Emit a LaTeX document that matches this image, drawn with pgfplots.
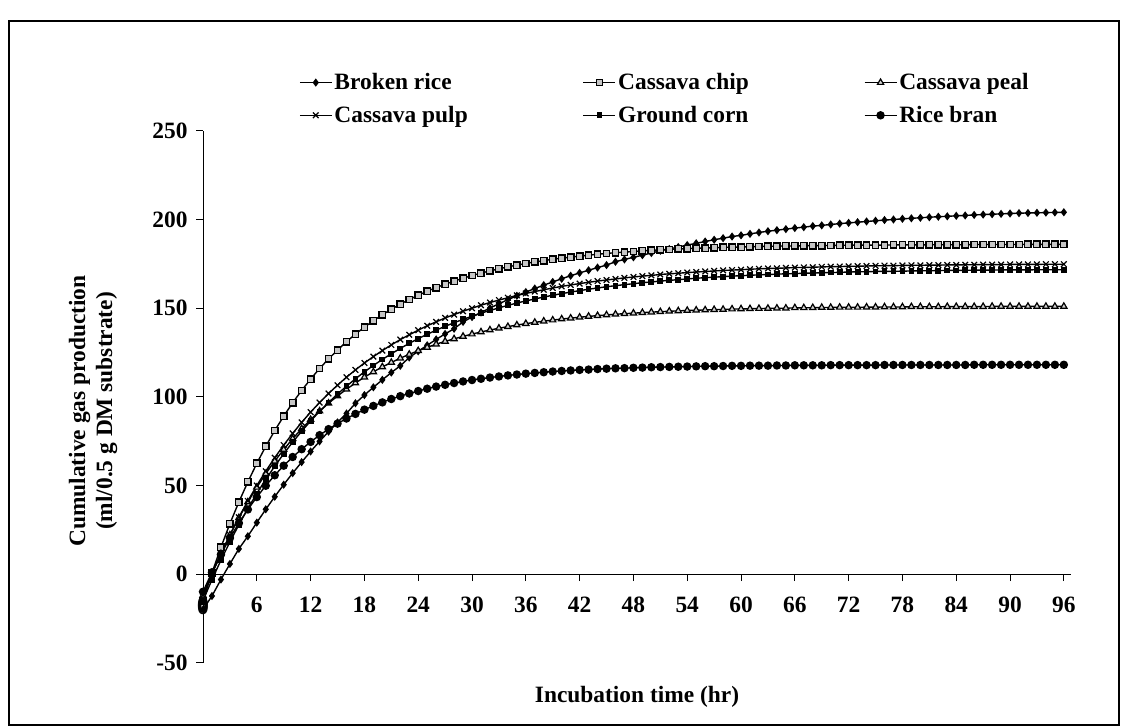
\documentclass[border=0pt]{standalone}
\usepackage{fontspec}
\setmainfont{Liberation Serif}
\usepackage{pgfplots}
\usepackage{pgfplotstable}
\pgfplotsset{compat=1.18}
\pgfplotstableread{
t br cc cpe cpu gc rb
0 -20 -15 -12 -12 -15 -10
1 -12.4 0.6 0.2 0.1 -3.2 1.0
2 -3.1 15.1 11.5 11.4 7.8 11.1
3 5.7 28.4 22.0 22.0 18.1 20.3
4 14.2 40.6 31.7 32.0 27.8 28.7
5 21.3 51.9 40.6 41.2 36.9 36.4
6 29.0 62.4 48.9 49.9 45.4 43.4
7 36.5 72.0 56.6 58.0 53.4 49.8
8 43.6 80.9 63.7 65.6 60.8 55.7
9 50.4 89.0 70.2 72.7 67.8 61.1
10 56.9 96.6 76.3 79.3 74.4 66.0
11 63.1 103.5 81.9 85.5 80.5 70.4
12 69.1 109.9 87.1 91.3 86.3 74.5
13 74.8 115.9 91.9 96.7 91.7 78.3
14 80.3 121.3 96.3 101.8 96.7 81.7
15 85.5 126.3 100.4 106.5 101.5 84.8
16 90.5 131.0 104.2 111.0 105.9 87.7
17 96.3 135.3 107.7 115.1 110.1 90.3
18 100.9 139.2 111.0 119.0 114.0 92.7
19 105.3 142.8 114.0 122.6 117.6 94.8
20 109.5 146.2 116.8 126.0 121.0 96.8
21 113.6 149.3 119.3 129.2 124.2 98.7
22 117.4 152.2 121.7 132.2 127.2 100.3
23 122.1 154.8 123.9 134.9 130.1 101.8
24 125.6 157.2 125.9 137.5 132.7 103.2
25 129.0 159.5 127.8 140.0 135.2 104.5
26 132.3 161.5 129.6 142.2 137.5 105.7
27 135.4 163.4 131.2 144.4 139.7 106.7
28 138.3 165.2 132.6 146.3 141.7 107.7
29 142.2 166.8 134.0 148.2 143.6 108.6
30 144.9 168.3 135.3 149.9 145.4 109.4
31 147.5 169.7 136.5 151.6 147.1 110.1
32 150.0 170.9 137.6 153.1 148.6 110.8
33 152.4 172.1 138.6 154.5 150.1 111.4
34 154.7 173.2 139.5 155.8 151.5 112.0
35 156.9 174.2 140.4 157.1 152.8 112.5
36 159.0 175.1 141.2 158.2 154.0 113.0
37 161.0 176.0 141.9 159.3 155.1 113.4
38 162.9 176.7 142.6 160.3 156.2 113.8
39 164.7 177.5 143.2 161.3 157.2 114.2
40 166.5 178.1 143.8 162.2 158.1 114.5
41 168.2 178.7 144.3 163.0 159.0 114.8
42 169.8 179.3 144.8 163.8 159.8 115.1
43 171.3 179.8 145.3 164.5 160.6 115.3
44 172.8 180.3 145.7 165.2 161.3 115.6
45 174.2 180.8 146.1 165.8 162.0 115.8
46 176.1 181.2 146.5 166.4 162.6 116.0
47 177.4 181.5 146.8 167.0 163.2 116.1
48 178.6 181.9 147.1 167.5 163.7 116.3
49 179.8 182.2 147.4 168.0 164.3 116.4
50 181.0 182.5 147.7 168.4 164.7 116.6
51 182.3 182.8 147.9 168.9 165.2 116.7
52 183.3 183.0 148.2 169.3 165.6 116.8
53 184.4 183.3 148.4 169.6 166.0 116.9
54 185.5 183.5 148.6 170.0 166.4 117.0
55 186.5 183.7 148.8 170.3 166.8 117.1
56 187.5 183.8 148.9 170.6 167.1 117.2
57 188.5 184.0 149.1 170.9 167.4 117.2
58 189.4 184.2 149.2 171.2 167.7 117.3
59 190.3 184.3 149.4 171.4 168.0 117.4
60 191.0 184.4 149.5 171.6 168.2 117.4
61 191.8 184.6 149.6 171.9 168.5 117.5
62 192.6 184.7 149.7 172.1 168.7 117.5
63 193.3 184.8 149.8 172.3 168.9 117.5
64 193.9 184.9 149.9 172.4 169.1 117.6
65 194.5 185.0 149.9 172.6 169.3 117.6
66 195.1 185.0 150.1 172.8 169.4 117.7
67 195.6 185.1 150.1 172.9 169.6 117.7
68 196.2 185.2 150.2 173.0 169.7 117.7
69 196.6 185.2 150.3 173.2 169.9 117.7
70 197.1 185.3 150.3 173.3 170.0 117.8
71 197.6 185.4 150.4 173.4 170.1 117.8
72 198.0 185.4 150.4 173.5 170.3 117.8
73 198.4 185.5 150.4 173.6 170.4 117.8
74 198.8 185.5 150.5 173.7 170.5 117.8
75 199.2 185.5 150.5 173.8 170.6 117.8
76 199.6 185.5 150.6 173.9 170.7 117.9
77 199.9 185.6 150.6 173.9 170.7 117.9
78 200.3 185.6 150.6 174.0 170.8 117.9
79 200.6 185.6 150.7 174.1 170.9 117.9
80 200.9 185.6 150.7 174.1 171.0 117.9
81 201.2 185.7 150.7 174.2 171.0 117.9
82 201.5 185.7 150.7 174.2 171.1 117.9
83 201.7 185.7 150.8 174.3 171.2 117.9
84 202.0 185.7 150.8 174.3 171.2 117.9
85 202.2 185.7 150.8 174.4 171.3 117.9
86 202.5 185.8 150.8 174.4 171.3 118.0
87 202.7 185.8 150.8 174.5 171.4 118.0
88 202.9 185.8 150.9 174.5 171.4 118.0
89 203.1 185.8 150.9 174.5 171.5 118.0
90 203.3 185.8 150.9 174.6 171.5 118.0
91 203.5 185.8 150.9 174.6 171.5 118.0
92 203.6 185.9 150.9 174.6 171.5 118.0
93 203.7 185.9 150.9 174.6 171.6 118.0
94 203.8 185.9 150.9 174.7 171.6 118.0
95 203.9 185.9 150.9 174.7 171.6 118.0
96 204.0 185.9 150.9 174.7 171.6 118.0
}\datatable
\newcommand{\chartfont}{\fontsize{23.4}{27}\selectfont\bfseries}
\begin{document}
\begin{tikzpicture}[x=1pt,y=1pt]
\useasboundingbox (0,0) rectangle (1121,727);
\draw[line width=2pt] (9,2) rectangle (1119,706);
\begin{axis}[
  at={(203pt,64.3pt)}, anchor=south west, scale only axis,
  width=868pt, height=532pt,
  xmin=0, xmax=96.8, ymin=-50, ymax=250,
  axis x line*=middle, axis y line*=left,
  hide obscured x ticks=false,
  xtick={0,6,12,18,24,30,36,42,48,54,60,66,72,78,84,90,96},
  xticklabels={0,6,12,18,24,30,36,42,48,54,60,66,72,78,84,90,96},
  ytick={-50,0,50,100,150,200,250},
  yticklabels={-50,0,50,100,150,200,250},
  tick align=outside, major tick length=7pt,
  tick style={black, line width=0.8pt},
  axis line style={black, line width=1pt},
  ticklabel style={font=\chartfont},
  xticklabel style={yshift=-12pt, text height=16pt, text depth=0pt},
  yticklabel style={xshift=-5pt},
  clip=false,
  legend columns=3,
  legend cell align=left,
  legend image code/.code={\draw[mark repeat=2,mark phase=2] plot coordinates {(0pt,0pt) (16pt,0pt) (32pt,0pt)};},
  legend style={draw=none, fill=none, at={(0.107,1.115)}, anchor=north west,
    font=\chartfont, row sep=11pt,
    /tikz/every even column/.append style={column sep=113pt}},
  every axis plot/.append style={black, line width=1.4pt},
]
\addplot[mark=diamond*, mark size=3pt] table[x=t,y=br] {\datatable};
\addlegendentry{Broken rice}
\addplot[mark=square*, mark size=3.2pt, mark options={fill=gray!45, line width=1.4pt}] table[x=t,y=cc] {\datatable};
\addlegendentry{Cassava chip}
\addplot[mark=triangle*, mark size=3.6pt, mark options={fill=gray!35, line width=1.2pt}] table[x=t,y=cpe] {\datatable};
\addlegendentry{Cassava peal}
\addplot[mark=x, mark size=4pt, mark options={line width=1.2pt}] table[x=t,y=cpu] {\datatable};
\addlegendentry{Cassava pulp}
\addplot[mark=square*, mark size=2.2pt] table[x=t,y=gc] {\datatable};
\addlegendentry{Ground corn}
\addplot[mark=*, mark size=3.5pt] table[x=t,y=rb] {\datatable};
\addlegendentry{Rice bran}
\end{axis}
\node[font=\chartfont] at (203,120) {0};
\node[font=\chartfont] at (637,30) {Incubation time (hr)};
\node[font=\chartfont, rotate=90, align=center] at (93,316) {Cumulative gas production\\(ml/0.5 g DM substrate)};
\end{tikzpicture}
\end{document}
